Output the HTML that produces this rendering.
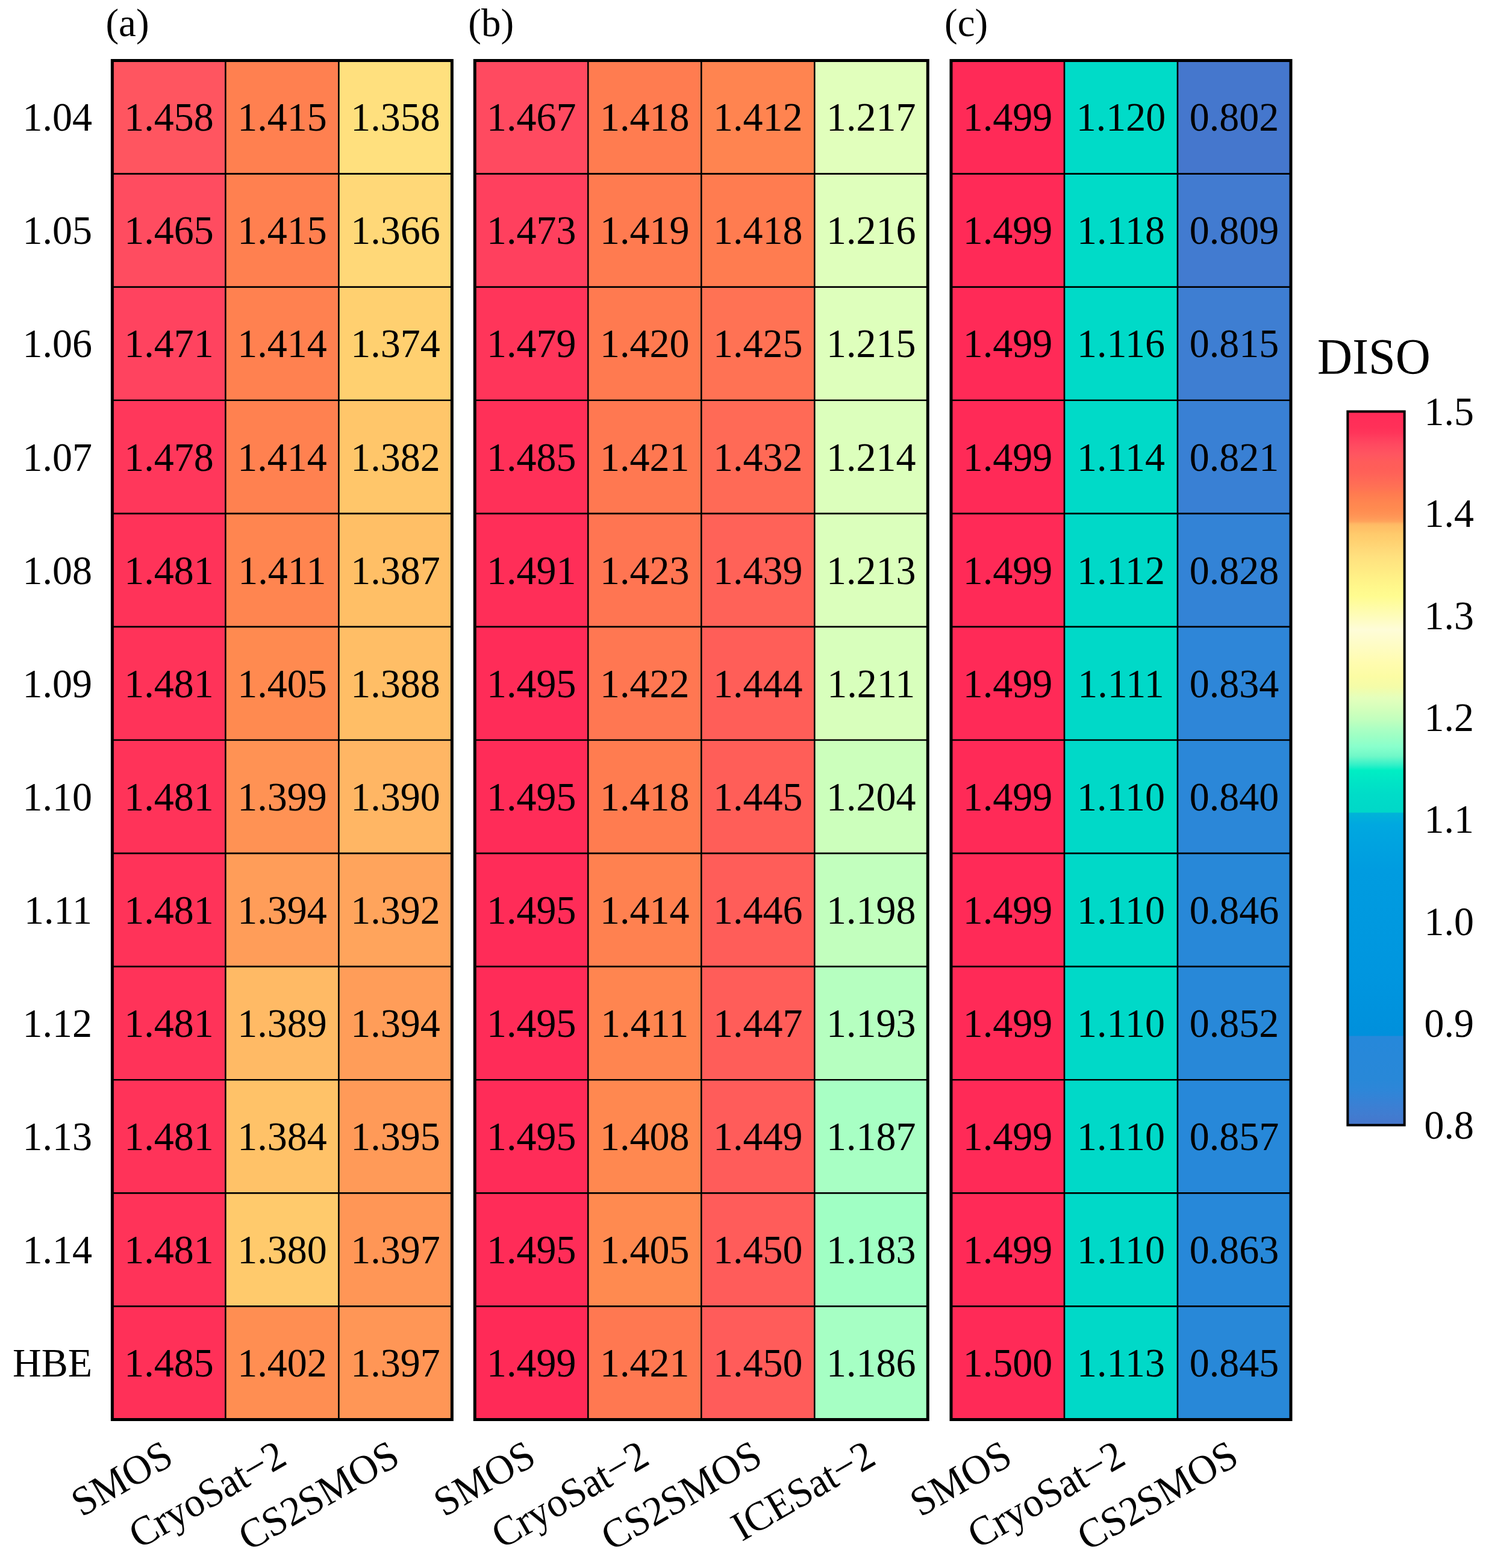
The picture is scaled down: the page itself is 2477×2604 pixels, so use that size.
<!DOCTYPE html>
<html><head><meta charset="utf-8"><title>DISO heatmap</title>
<style>
html,body{margin:0;padding:0;background:#fff;}
body{width:2477px;height:2604px;overflow:hidden;}
svg{display:block;}
svg text{font-family:"Liberation Serif", serif;font-size:66.00px;fill:#000;}
</style></head><body>
<svg width="2477" height="2604" viewBox="0 0 2477 2604">
<rect x="0" y="0" width="2477" height="2604" fill="#ffffff"/>
<rect x="186.40" y="100.50" width="188.00" height="188.08" fill="#ff5560"/>
<rect x="374.40" y="100.50" width="188.00" height="188.08" fill="#ff8050"/>
<rect x="562.40" y="100.50" width="188.00" height="188.08" fill="#ffe07e"/>
<rect x="186.40" y="288.58" width="188.00" height="188.08" fill="#ff4c60"/>
<rect x="374.40" y="288.58" width="188.00" height="188.08" fill="#ff8050"/>
<rect x="562.40" y="288.58" width="188.00" height="188.08" fill="#ffd878"/>
<rect x="186.40" y="476.67" width="188.00" height="188.08" fill="#ff435f"/>
<rect x="374.40" y="476.67" width="188.00" height="188.08" fill="#ff8150"/>
<rect x="562.40" y="476.67" width="188.00" height="188.08" fill="#ffd070"/>
<rect x="186.40" y="664.75" width="188.00" height="188.08" fill="#ff375b"/>
<rect x="374.40" y="664.75" width="188.00" height="188.08" fill="#ff8150"/>
<rect x="562.40" y="664.75" width="188.00" height="188.08" fill="#ffc66a"/>
<rect x="186.40" y="852.83" width="188.00" height="188.08" fill="#ff3359"/>
<rect x="374.40" y="852.83" width="188.00" height="188.08" fill="#ff8550"/>
<rect x="562.40" y="852.83" width="188.00" height="188.08" fill="#ffbf66"/>
<rect x="186.40" y="1040.92" width="188.00" height="188.08" fill="#ff3359"/>
<rect x="374.40" y="1040.92" width="188.00" height="188.08" fill="#ff8a50"/>
<rect x="562.40" y="1040.92" width="188.00" height="188.08" fill="#ffbe66"/>
<rect x="186.40" y="1229.00" width="188.00" height="188.08" fill="#ff3359"/>
<rect x="374.40" y="1229.00" width="188.00" height="188.08" fill="#ff9254"/>
<rect x="562.40" y="1229.00" width="188.00" height="188.08" fill="#ffb664"/>
<rect x="186.40" y="1417.08" width="188.00" height="188.08" fill="#ff3359"/>
<rect x="374.40" y="1417.08" width="188.00" height="188.08" fill="#ff9d59"/>
<rect x="562.40" y="1417.08" width="188.00" height="188.08" fill="#ffa45c"/>
<rect x="186.40" y="1605.17" width="188.00" height="188.08" fill="#ff3359"/>
<rect x="374.40" y="1605.17" width="188.00" height="188.08" fill="#ffba65"/>
<rect x="562.40" y="1605.17" width="188.00" height="188.08" fill="#ff9d59"/>
<rect x="186.40" y="1793.25" width="188.00" height="188.08" fill="#ff3359"/>
<rect x="374.40" y="1793.25" width="188.00" height="188.08" fill="#ffc268"/>
<rect x="562.40" y="1793.25" width="188.00" height="188.08" fill="#ff9a58"/>
<rect x="186.40" y="1981.33" width="188.00" height="188.08" fill="#ff3359"/>
<rect x="374.40" y="1981.33" width="188.00" height="188.08" fill="#ffca6c"/>
<rect x="562.40" y="1981.33" width="188.00" height="188.08" fill="#ff9656"/>
<rect x="186.40" y="2169.42" width="188.00" height="188.08" fill="#ff3058"/>
<rect x="374.40" y="2169.42" width="188.00" height="188.08" fill="#ff8e52"/>
<rect x="562.40" y="2169.42" width="188.00" height="188.08" fill="#ff9656"/>
<line x1="374.40" y1="100.50" x2="374.40" y2="2357.50" stroke="#000" stroke-width="2.60"/>
<line x1="562.40" y1="100.50" x2="562.40" y2="2357.50" stroke="#000" stroke-width="2.60"/>
<line x1="186.40" y1="288.58" x2="750.40" y2="288.58" stroke="#000" stroke-width="2.60"/>
<line x1="186.40" y1="476.67" x2="750.40" y2="476.67" stroke="#000" stroke-width="2.60"/>
<line x1="186.40" y1="664.75" x2="750.40" y2="664.75" stroke="#000" stroke-width="2.60"/>
<line x1="186.40" y1="852.83" x2="750.40" y2="852.83" stroke="#000" stroke-width="2.60"/>
<line x1="186.40" y1="1040.92" x2="750.40" y2="1040.92" stroke="#000" stroke-width="2.60"/>
<line x1="186.40" y1="1229.00" x2="750.40" y2="1229.00" stroke="#000" stroke-width="2.60"/>
<line x1="186.40" y1="1417.08" x2="750.40" y2="1417.08" stroke="#000" stroke-width="2.60"/>
<line x1="186.40" y1="1605.17" x2="750.40" y2="1605.17" stroke="#000" stroke-width="2.60"/>
<line x1="186.40" y1="1793.25" x2="750.40" y2="1793.25" stroke="#000" stroke-width="2.60"/>
<line x1="186.40" y1="1981.33" x2="750.40" y2="1981.33" stroke="#000" stroke-width="2.60"/>
<line x1="186.40" y1="2169.42" x2="750.40" y2="2169.42" stroke="#000" stroke-width="2.60"/>
<rect x="186.40" y="100.50" width="564.00" height="2257.00" fill="none" stroke="#000" stroke-width="5.00"/>
<text transform="translate(280.40 217.26) scale(1 1.040)" text-anchor="middle">1.458</text>
<text transform="translate(468.40 217.26) scale(1 1.040)" text-anchor="middle">1.415</text>
<text transform="translate(656.40 217.26) scale(1 1.040)" text-anchor="middle">1.358</text>
<text transform="translate(280.40 405.34) scale(1 1.040)" text-anchor="middle">1.465</text>
<text transform="translate(468.40 405.34) scale(1 1.040)" text-anchor="middle">1.415</text>
<text transform="translate(656.40 405.34) scale(1 1.040)" text-anchor="middle">1.366</text>
<text transform="translate(280.40 593.43) scale(1 1.040)" text-anchor="middle">1.471</text>
<text transform="translate(468.40 593.43) scale(1 1.040)" text-anchor="middle">1.414</text>
<text transform="translate(656.40 593.43) scale(1 1.040)" text-anchor="middle">1.374</text>
<text transform="translate(280.40 781.51) scale(1 1.040)" text-anchor="middle">1.478</text>
<text transform="translate(468.40 781.51) scale(1 1.040)" text-anchor="middle">1.414</text>
<text transform="translate(656.40 781.51) scale(1 1.040)" text-anchor="middle">1.382</text>
<text transform="translate(280.40 969.59) scale(1 1.040)" text-anchor="middle">1.481</text>
<text transform="translate(468.40 969.59) scale(1 1.040)" text-anchor="middle">1.411</text>
<text transform="translate(656.40 969.59) scale(1 1.040)" text-anchor="middle">1.387</text>
<text transform="translate(280.40 1157.68) scale(1 1.040)" text-anchor="middle">1.481</text>
<text transform="translate(468.40 1157.68) scale(1 1.040)" text-anchor="middle">1.405</text>
<text transform="translate(656.40 1157.68) scale(1 1.040)" text-anchor="middle">1.388</text>
<text transform="translate(280.40 1345.76) scale(1 1.040)" text-anchor="middle">1.481</text>
<text transform="translate(468.40 1345.76) scale(1 1.040)" text-anchor="middle">1.399</text>
<text transform="translate(656.40 1345.76) scale(1 1.040)" text-anchor="middle">1.390</text>
<text transform="translate(280.40 1533.84) scale(1 1.040)" text-anchor="middle">1.481</text>
<text transform="translate(468.40 1533.84) scale(1 1.040)" text-anchor="middle">1.394</text>
<text transform="translate(656.40 1533.84) scale(1 1.040)" text-anchor="middle">1.392</text>
<text transform="translate(280.40 1721.93) scale(1 1.040)" text-anchor="middle">1.481</text>
<text transform="translate(468.40 1721.93) scale(1 1.040)" text-anchor="middle">1.389</text>
<text transform="translate(656.40 1721.93) scale(1 1.040)" text-anchor="middle">1.394</text>
<text transform="translate(280.40 1910.01) scale(1 1.040)" text-anchor="middle">1.481</text>
<text transform="translate(468.40 1910.01) scale(1 1.040)" text-anchor="middle">1.384</text>
<text transform="translate(656.40 1910.01) scale(1 1.040)" text-anchor="middle">1.395</text>
<text transform="translate(280.40 2098.09) scale(1 1.040)" text-anchor="middle">1.481</text>
<text transform="translate(468.40 2098.09) scale(1 1.040)" text-anchor="middle">1.380</text>
<text transform="translate(656.40 2098.09) scale(1 1.040)" text-anchor="middle">1.397</text>
<text transform="translate(280.40 2286.18) scale(1 1.040)" text-anchor="middle">1.485</text>
<text transform="translate(468.40 2286.18) scale(1 1.040)" text-anchor="middle">1.402</text>
<text transform="translate(656.40 2286.18) scale(1 1.040)" text-anchor="middle">1.397</text>
<text transform="translate(175.40 60.00)" style="font-size:65px">(a)</text>
<text transform="translate(291.40 2430.00) rotate(-30) scale(1 1.040)" text-anchor="end">SMOS</text>
<text transform="translate(479.40 2430.00) rotate(-30) scale(1 1.040)" text-anchor="end">CryoSat−2</text>
<text transform="translate(667.40 2430.00) rotate(-30) scale(1 1.040)" text-anchor="end">CS2SMOS</text>
<rect x="788.30" y="100.50" width="188.00" height="188.08" fill="#ff4a60"/>
<rect x="976.30" y="100.50" width="188.00" height="188.08" fill="#ff7c50"/>
<rect x="1164.30" y="100.50" width="188.00" height="188.08" fill="#ff8450"/>
<rect x="1352.30" y="100.50" width="188.00" height="188.08" fill="#e1ffbc"/>
<rect x="788.30" y="288.58" width="188.00" height="188.08" fill="#ff405e"/>
<rect x="976.30" y="288.58" width="188.00" height="188.08" fill="#ff7b50"/>
<rect x="1164.30" y="288.58" width="188.00" height="188.08" fill="#ff7c50"/>
<rect x="1352.30" y="288.58" width="188.00" height="188.08" fill="#dfffbc"/>
<rect x="788.30" y="476.67" width="188.00" height="188.08" fill="#ff355a"/>
<rect x="976.30" y="476.67" width="188.00" height="188.08" fill="#ff7a50"/>
<rect x="1164.30" y="476.67" width="188.00" height="188.08" fill="#ff7254"/>
<rect x="1352.30" y="476.67" width="188.00" height="188.08" fill="#deffbc"/>
<rect x="788.30" y="664.75" width="188.00" height="188.08" fill="#ff3058"/>
<rect x="976.30" y="664.75" width="188.00" height="188.08" fill="#ff7851"/>
<rect x="1164.30" y="664.75" width="188.00" height="188.08" fill="#ff6a56"/>
<rect x="1352.30" y="664.75" width="188.00" height="188.08" fill="#dcffbc"/>
<rect x="788.30" y="852.83" width="188.00" height="188.08" fill="#ff2e58"/>
<rect x="976.30" y="852.83" width="188.00" height="188.08" fill="#ff7552"/>
<rect x="1164.30" y="852.83" width="188.00" height="188.08" fill="#ff6258"/>
<rect x="1352.30" y="852.83" width="188.00" height="188.08" fill="#dbffbc"/>
<rect x="788.30" y="1040.92" width="188.00" height="188.08" fill="#ff2c58"/>
<rect x="976.30" y="1040.92" width="188.00" height="188.08" fill="#ff7752"/>
<rect x="1164.30" y="1040.92" width="188.00" height="188.08" fill="#ff5e58"/>
<rect x="1352.30" y="1040.92" width="188.00" height="188.08" fill="#d8ffbc"/>
<rect x="788.30" y="1229.00" width="188.00" height="188.08" fill="#ff2c58"/>
<rect x="976.30" y="1229.00" width="188.00" height="188.08" fill="#ff7c50"/>
<rect x="1164.30" y="1229.00" width="188.00" height="188.08" fill="#ff5e58"/>
<rect x="1352.30" y="1229.00" width="188.00" height="188.08" fill="#ccffbc"/>
<rect x="788.30" y="1417.08" width="188.00" height="188.08" fill="#ff2c58"/>
<rect x="976.30" y="1417.08" width="188.00" height="188.08" fill="#ff8150"/>
<rect x="1164.30" y="1417.08" width="188.00" height="188.08" fill="#ff5d59"/>
<rect x="1352.30" y="1417.08" width="188.00" height="188.08" fill="#c2ffbe"/>
<rect x="788.30" y="1605.17" width="188.00" height="188.08" fill="#ff2c58"/>
<rect x="976.30" y="1605.17" width="188.00" height="188.08" fill="#ff8550"/>
<rect x="1164.30" y="1605.17" width="188.00" height="188.08" fill="#ff5d59"/>
<rect x="1352.30" y="1605.17" width="188.00" height="188.08" fill="#b6ffc0"/>
<rect x="788.30" y="1793.25" width="188.00" height="188.08" fill="#ff2c58"/>
<rect x="976.30" y="1793.25" width="188.00" height="188.08" fill="#ff8850"/>
<rect x="1164.30" y="1793.25" width="188.00" height="188.08" fill="#ff5c5a"/>
<rect x="1352.30" y="1793.25" width="188.00" height="188.08" fill="#a8ffc4"/>
<rect x="788.30" y="1981.33" width="188.00" height="188.08" fill="#ff2c58"/>
<rect x="976.30" y="1981.33" width="188.00" height="188.08" fill="#ff8a50"/>
<rect x="1164.30" y="1981.33" width="188.00" height="188.08" fill="#ff5c5a"/>
<rect x="1352.30" y="1981.33" width="188.00" height="188.08" fill="#a0ffc4"/>
<rect x="788.30" y="2169.42" width="188.00" height="188.08" fill="#ff2a57"/>
<rect x="976.30" y="2169.42" width="188.00" height="188.08" fill="#ff7851"/>
<rect x="1164.30" y="2169.42" width="188.00" height="188.08" fill="#ff5c5a"/>
<rect x="1352.30" y="2169.42" width="188.00" height="188.08" fill="#a6ffc4"/>
<line x1="976.30" y1="100.50" x2="976.30" y2="2357.50" stroke="#000" stroke-width="2.60"/>
<line x1="1164.30" y1="100.50" x2="1164.30" y2="2357.50" stroke="#000" stroke-width="2.60"/>
<line x1="1352.30" y1="100.50" x2="1352.30" y2="2357.50" stroke="#000" stroke-width="2.60"/>
<line x1="788.30" y1="288.58" x2="1540.30" y2="288.58" stroke="#000" stroke-width="2.60"/>
<line x1="788.30" y1="476.67" x2="1540.30" y2="476.67" stroke="#000" stroke-width="2.60"/>
<line x1="788.30" y1="664.75" x2="1540.30" y2="664.75" stroke="#000" stroke-width="2.60"/>
<line x1="788.30" y1="852.83" x2="1540.30" y2="852.83" stroke="#000" stroke-width="2.60"/>
<line x1="788.30" y1="1040.92" x2="1540.30" y2="1040.92" stroke="#000" stroke-width="2.60"/>
<line x1="788.30" y1="1229.00" x2="1540.30" y2="1229.00" stroke="#000" stroke-width="2.60"/>
<line x1="788.30" y1="1417.08" x2="1540.30" y2="1417.08" stroke="#000" stroke-width="2.60"/>
<line x1="788.30" y1="1605.17" x2="1540.30" y2="1605.17" stroke="#000" stroke-width="2.60"/>
<line x1="788.30" y1="1793.25" x2="1540.30" y2="1793.25" stroke="#000" stroke-width="2.60"/>
<line x1="788.30" y1="1981.33" x2="1540.30" y2="1981.33" stroke="#000" stroke-width="2.60"/>
<line x1="788.30" y1="2169.42" x2="1540.30" y2="2169.42" stroke="#000" stroke-width="2.60"/>
<rect x="788.30" y="100.50" width="752.00" height="2257.00" fill="none" stroke="#000" stroke-width="5.00"/>
<text transform="translate(882.30 217.26) scale(1 1.040)" text-anchor="middle">1.467</text>
<text transform="translate(1070.30 217.26) scale(1 1.040)" text-anchor="middle">1.418</text>
<text transform="translate(1258.30 217.26) scale(1 1.040)" text-anchor="middle">1.412</text>
<text transform="translate(1446.30 217.26) scale(1 1.040)" text-anchor="middle">1.217</text>
<text transform="translate(882.30 405.34) scale(1 1.040)" text-anchor="middle">1.473</text>
<text transform="translate(1070.30 405.34) scale(1 1.040)" text-anchor="middle">1.419</text>
<text transform="translate(1258.30 405.34) scale(1 1.040)" text-anchor="middle">1.418</text>
<text transform="translate(1446.30 405.34) scale(1 1.040)" text-anchor="middle">1.216</text>
<text transform="translate(882.30 593.43) scale(1 1.040)" text-anchor="middle">1.479</text>
<text transform="translate(1070.30 593.43) scale(1 1.040)" text-anchor="middle">1.420</text>
<text transform="translate(1258.30 593.43) scale(1 1.040)" text-anchor="middle">1.425</text>
<text transform="translate(1446.30 593.43) scale(1 1.040)" text-anchor="middle">1.215</text>
<text transform="translate(882.30 781.51) scale(1 1.040)" text-anchor="middle">1.485</text>
<text transform="translate(1070.30 781.51) scale(1 1.040)" text-anchor="middle">1.421</text>
<text transform="translate(1258.30 781.51) scale(1 1.040)" text-anchor="middle">1.432</text>
<text transform="translate(1446.30 781.51) scale(1 1.040)" text-anchor="middle">1.214</text>
<text transform="translate(882.30 969.59) scale(1 1.040)" text-anchor="middle">1.491</text>
<text transform="translate(1070.30 969.59) scale(1 1.040)" text-anchor="middle">1.423</text>
<text transform="translate(1258.30 969.59) scale(1 1.040)" text-anchor="middle">1.439</text>
<text transform="translate(1446.30 969.59) scale(1 1.040)" text-anchor="middle">1.213</text>
<text transform="translate(882.30 1157.68) scale(1 1.040)" text-anchor="middle">1.495</text>
<text transform="translate(1070.30 1157.68) scale(1 1.040)" text-anchor="middle">1.422</text>
<text transform="translate(1258.30 1157.68) scale(1 1.040)" text-anchor="middle">1.444</text>
<text transform="translate(1446.30 1157.68) scale(1 1.040)" text-anchor="middle">1.211</text>
<text transform="translate(882.30 1345.76) scale(1 1.040)" text-anchor="middle">1.495</text>
<text transform="translate(1070.30 1345.76) scale(1 1.040)" text-anchor="middle">1.418</text>
<text transform="translate(1258.30 1345.76) scale(1 1.040)" text-anchor="middle">1.445</text>
<text transform="translate(1446.30 1345.76) scale(1 1.040)" text-anchor="middle">1.204</text>
<text transform="translate(882.30 1533.84) scale(1 1.040)" text-anchor="middle">1.495</text>
<text transform="translate(1070.30 1533.84) scale(1 1.040)" text-anchor="middle">1.414</text>
<text transform="translate(1258.30 1533.84) scale(1 1.040)" text-anchor="middle">1.446</text>
<text transform="translate(1446.30 1533.84) scale(1 1.040)" text-anchor="middle">1.198</text>
<text transform="translate(882.30 1721.93) scale(1 1.040)" text-anchor="middle">1.495</text>
<text transform="translate(1070.30 1721.93) scale(1 1.040)" text-anchor="middle">1.411</text>
<text transform="translate(1258.30 1721.93) scale(1 1.040)" text-anchor="middle">1.447</text>
<text transform="translate(1446.30 1721.93) scale(1 1.040)" text-anchor="middle">1.193</text>
<text transform="translate(882.30 1910.01) scale(1 1.040)" text-anchor="middle">1.495</text>
<text transform="translate(1070.30 1910.01) scale(1 1.040)" text-anchor="middle">1.408</text>
<text transform="translate(1258.30 1910.01) scale(1 1.040)" text-anchor="middle">1.449</text>
<text transform="translate(1446.30 1910.01) scale(1 1.040)" text-anchor="middle">1.187</text>
<text transform="translate(882.30 2098.09) scale(1 1.040)" text-anchor="middle">1.495</text>
<text transform="translate(1070.30 2098.09) scale(1 1.040)" text-anchor="middle">1.405</text>
<text transform="translate(1258.30 2098.09) scale(1 1.040)" text-anchor="middle">1.450</text>
<text transform="translate(1446.30 2098.09) scale(1 1.040)" text-anchor="middle">1.183</text>
<text transform="translate(882.30 2286.18) scale(1 1.040)" text-anchor="middle">1.499</text>
<text transform="translate(1070.30 2286.18) scale(1 1.040)" text-anchor="middle">1.421</text>
<text transform="translate(1258.30 2286.18) scale(1 1.040)" text-anchor="middle">1.450</text>
<text transform="translate(1446.30 2286.18) scale(1 1.040)" text-anchor="middle">1.186</text>
<text transform="translate(777.30 60.00)" style="font-size:65px">(b)</text>
<text transform="translate(893.30 2430.00) rotate(-30) scale(1 1.040)" text-anchor="end">SMOS</text>
<text transform="translate(1081.30 2430.00) rotate(-30) scale(1 1.040)" text-anchor="end">CryoSat−2</text>
<text transform="translate(1269.30 2430.00) rotate(-30) scale(1 1.040)" text-anchor="end">CS2SMOS</text>
<text transform="translate(1457.30 2430.00) rotate(-30) scale(1 1.040)" text-anchor="end">ICESat−2</text>
<rect x="1579.00" y="100.50" width="188.00" height="188.08" fill="#ff2a57"/>
<rect x="1767.00" y="100.50" width="188.00" height="188.08" fill="#00dbc8"/>
<rect x="1955.00" y="100.50" width="188.00" height="188.08" fill="#4577cd"/>
<rect x="1579.00" y="288.58" width="188.00" height="188.08" fill="#ff2a57"/>
<rect x="1767.00" y="288.58" width="188.00" height="188.08" fill="#00dbc8"/>
<rect x="1955.00" y="288.58" width="188.00" height="188.08" fill="#427bd0"/>
<rect x="1579.00" y="476.67" width="188.00" height="188.08" fill="#ff2a57"/>
<rect x="1767.00" y="476.67" width="188.00" height="188.08" fill="#00dac8"/>
<rect x="1955.00" y="476.67" width="188.00" height="188.08" fill="#3e7ed2"/>
<rect x="1579.00" y="664.75" width="188.00" height="188.08" fill="#ff2a57"/>
<rect x="1767.00" y="664.75" width="188.00" height="188.08" fill="#00dac8"/>
<rect x="1955.00" y="664.75" width="188.00" height="188.08" fill="#3980d4"/>
<rect x="1579.00" y="852.83" width="188.00" height="188.08" fill="#ff2a57"/>
<rect x="1767.00" y="852.83" width="188.00" height="188.08" fill="#00d9c8"/>
<rect x="1955.00" y="852.83" width="188.00" height="188.08" fill="#3383d6"/>
<rect x="1579.00" y="1040.92" width="188.00" height="188.08" fill="#ff2a57"/>
<rect x="1767.00" y="1040.92" width="188.00" height="188.08" fill="#00d9c8"/>
<rect x="1955.00" y="1040.92" width="188.00" height="188.08" fill="#2e86d8"/>
<rect x="1579.00" y="1229.00" width="188.00" height="188.08" fill="#ff2a57"/>
<rect x="1767.00" y="1229.00" width="188.00" height="188.08" fill="#00d9c8"/>
<rect x="1955.00" y="1229.00" width="188.00" height="188.08" fill="#2b87d8"/>
<rect x="1579.00" y="1417.08" width="188.00" height="188.08" fill="#ff2a57"/>
<rect x="1767.00" y="1417.08" width="188.00" height="188.08" fill="#00d9c8"/>
<rect x="1955.00" y="1417.08" width="188.00" height="188.08" fill="#2888d8"/>
<rect x="1579.00" y="1605.17" width="188.00" height="188.08" fill="#ff2a57"/>
<rect x="1767.00" y="1605.17" width="188.00" height="188.08" fill="#00d9c8"/>
<rect x="1955.00" y="1605.17" width="188.00" height="188.08" fill="#2888d8"/>
<rect x="1579.00" y="1793.25" width="188.00" height="188.08" fill="#ff2a57"/>
<rect x="1767.00" y="1793.25" width="188.00" height="188.08" fill="#00d9c8"/>
<rect x="1955.00" y="1793.25" width="188.00" height="188.08" fill="#2788d9"/>
<rect x="1579.00" y="1981.33" width="188.00" height="188.08" fill="#ff2a57"/>
<rect x="1767.00" y="1981.33" width="188.00" height="188.08" fill="#00d9c8"/>
<rect x="1955.00" y="1981.33" width="188.00" height="188.08" fill="#2788d9"/>
<rect x="1579.00" y="2169.42" width="188.00" height="188.08" fill="#ff2a57"/>
<rect x="1767.00" y="2169.42" width="188.00" height="188.08" fill="#00d9c8"/>
<rect x="1955.00" y="2169.42" width="188.00" height="188.08" fill="#2888d8"/>
<line x1="1767.00" y1="100.50" x2="1767.00" y2="2357.50" stroke="#000" stroke-width="2.60"/>
<line x1="1955.00" y1="100.50" x2="1955.00" y2="2357.50" stroke="#000" stroke-width="2.60"/>
<line x1="1579.00" y1="288.58" x2="2143.00" y2="288.58" stroke="#000" stroke-width="2.60"/>
<line x1="1579.00" y1="476.67" x2="2143.00" y2="476.67" stroke="#000" stroke-width="2.60"/>
<line x1="1579.00" y1="664.75" x2="2143.00" y2="664.75" stroke="#000" stroke-width="2.60"/>
<line x1="1579.00" y1="852.83" x2="2143.00" y2="852.83" stroke="#000" stroke-width="2.60"/>
<line x1="1579.00" y1="1040.92" x2="2143.00" y2="1040.92" stroke="#000" stroke-width="2.60"/>
<line x1="1579.00" y1="1229.00" x2="2143.00" y2="1229.00" stroke="#000" stroke-width="2.60"/>
<line x1="1579.00" y1="1417.08" x2="2143.00" y2="1417.08" stroke="#000" stroke-width="2.60"/>
<line x1="1579.00" y1="1605.17" x2="2143.00" y2="1605.17" stroke="#000" stroke-width="2.60"/>
<line x1="1579.00" y1="1793.25" x2="2143.00" y2="1793.25" stroke="#000" stroke-width="2.60"/>
<line x1="1579.00" y1="1981.33" x2="2143.00" y2="1981.33" stroke="#000" stroke-width="2.60"/>
<line x1="1579.00" y1="2169.42" x2="2143.00" y2="2169.42" stroke="#000" stroke-width="2.60"/>
<rect x="1579.00" y="100.50" width="564.00" height="2257.00" fill="none" stroke="#000" stroke-width="5.00"/>
<text transform="translate(1673.00 217.26) scale(1 1.040)" text-anchor="middle">1.499</text>
<text transform="translate(1861.00 217.26) scale(1 1.040)" text-anchor="middle">1.120</text>
<text transform="translate(2049.00 217.26) scale(1 1.040)" text-anchor="middle">0.802</text>
<text transform="translate(1673.00 405.34) scale(1 1.040)" text-anchor="middle">1.499</text>
<text transform="translate(1861.00 405.34) scale(1 1.040)" text-anchor="middle">1.118</text>
<text transform="translate(2049.00 405.34) scale(1 1.040)" text-anchor="middle">0.809</text>
<text transform="translate(1673.00 593.43) scale(1 1.040)" text-anchor="middle">1.499</text>
<text transform="translate(1861.00 593.43) scale(1 1.040)" text-anchor="middle">1.116</text>
<text transform="translate(2049.00 593.43) scale(1 1.040)" text-anchor="middle">0.815</text>
<text transform="translate(1673.00 781.51) scale(1 1.040)" text-anchor="middle">1.499</text>
<text transform="translate(1861.00 781.51) scale(1 1.040)" text-anchor="middle">1.114</text>
<text transform="translate(2049.00 781.51) scale(1 1.040)" text-anchor="middle">0.821</text>
<text transform="translate(1673.00 969.59) scale(1 1.040)" text-anchor="middle">1.499</text>
<text transform="translate(1861.00 969.59) scale(1 1.040)" text-anchor="middle">1.112</text>
<text transform="translate(2049.00 969.59) scale(1 1.040)" text-anchor="middle">0.828</text>
<text transform="translate(1673.00 1157.68) scale(1 1.040)" text-anchor="middle">1.499</text>
<text transform="translate(1861.00 1157.68) scale(1 1.040)" text-anchor="middle">1.111</text>
<text transform="translate(2049.00 1157.68) scale(1 1.040)" text-anchor="middle">0.834</text>
<text transform="translate(1673.00 1345.76) scale(1 1.040)" text-anchor="middle">1.499</text>
<text transform="translate(1861.00 1345.76) scale(1 1.040)" text-anchor="middle">1.110</text>
<text transform="translate(2049.00 1345.76) scale(1 1.040)" text-anchor="middle">0.840</text>
<text transform="translate(1673.00 1533.84) scale(1 1.040)" text-anchor="middle">1.499</text>
<text transform="translate(1861.00 1533.84) scale(1 1.040)" text-anchor="middle">1.110</text>
<text transform="translate(2049.00 1533.84) scale(1 1.040)" text-anchor="middle">0.846</text>
<text transform="translate(1673.00 1721.93) scale(1 1.040)" text-anchor="middle">1.499</text>
<text transform="translate(1861.00 1721.93) scale(1 1.040)" text-anchor="middle">1.110</text>
<text transform="translate(2049.00 1721.93) scale(1 1.040)" text-anchor="middle">0.852</text>
<text transform="translate(1673.00 1910.01) scale(1 1.040)" text-anchor="middle">1.499</text>
<text transform="translate(1861.00 1910.01) scale(1 1.040)" text-anchor="middle">1.110</text>
<text transform="translate(2049.00 1910.01) scale(1 1.040)" text-anchor="middle">0.857</text>
<text transform="translate(1673.00 2098.09) scale(1 1.040)" text-anchor="middle">1.499</text>
<text transform="translate(1861.00 2098.09) scale(1 1.040)" text-anchor="middle">1.110</text>
<text transform="translate(2049.00 2098.09) scale(1 1.040)" text-anchor="middle">0.863</text>
<text transform="translate(1673.00 2286.18) scale(1 1.040)" text-anchor="middle">1.500</text>
<text transform="translate(1861.00 2286.18) scale(1 1.040)" text-anchor="middle">1.113</text>
<text transform="translate(2049.00 2286.18) scale(1 1.040)" text-anchor="middle">0.845</text>
<text transform="translate(1568.00 60.00)" style="font-size:65px">(c)</text>
<text transform="translate(1684.00 2430.00) rotate(-30) scale(1 1.040)" text-anchor="end">SMOS</text>
<text transform="translate(1872.00 2430.00) rotate(-30) scale(1 1.040)" text-anchor="end">CryoSat−2</text>
<text transform="translate(2060.00 2430.00) rotate(-30) scale(1 1.040)" text-anchor="end">CS2SMOS</text>
<text transform="translate(153.00 217.26) scale(1 1.040)" text-anchor="end">1.04</text>
<text transform="translate(153.00 405.34) scale(1 1.040)" text-anchor="end">1.05</text>
<text transform="translate(153.00 593.43) scale(1 1.040)" text-anchor="end">1.06</text>
<text transform="translate(153.00 781.51) scale(1 1.040)" text-anchor="end">1.07</text>
<text transform="translate(153.00 969.59) scale(1 1.040)" text-anchor="end">1.08</text>
<text transform="translate(153.00 1157.68) scale(1 1.040)" text-anchor="end">1.09</text>
<text transform="translate(153.00 1345.76) scale(1 1.040)" text-anchor="end">1.10</text>
<text transform="translate(153.00 1533.84) scale(1 1.040)" text-anchor="end">1.11</text>
<text transform="translate(153.00 1721.93) scale(1 1.040)" text-anchor="end">1.12</text>
<text transform="translate(153.00 1910.01) scale(1 1.040)" text-anchor="end">1.13</text>
<text transform="translate(153.00 2098.09) scale(1 1.040)" text-anchor="end">1.14</text>
<text transform="translate(153.00 2286.18) scale(1 1.040)" text-anchor="end">HBE</text>
<defs><linearGradient id="cb" x1="0" y1="0" x2="0" y2="1">
<stop offset="0.0000" stop-color="#ff2a57"/>
<stop offset="0.0071" stop-color="#ff2c58"/>
<stop offset="0.0214" stop-color="#ff3058"/>
<stop offset="0.0300" stop-color="#ff355a"/>
<stop offset="0.0386" stop-color="#ff405e"/>
<stop offset="0.0471" stop-color="#ff4a60"/>
<stop offset="0.0600" stop-color="#ff5560"/>
<stop offset="0.0714" stop-color="#ff5c5a"/>
<stop offset="0.0800" stop-color="#ff5e58"/>
<stop offset="0.0871" stop-color="#ff6258"/>
<stop offset="0.0971" stop-color="#ff6a56"/>
<stop offset="0.1071" stop-color="#ff7254"/>
<stop offset="0.1143" stop-color="#ff7a50"/>
<stop offset="0.1214" stop-color="#ff8050"/>
<stop offset="0.1271" stop-color="#ff8550"/>
<stop offset="0.1357" stop-color="#ff8a50"/>
<stop offset="0.1443" stop-color="#ff9254"/>
<stop offset="0.1500" stop-color="#ff9a58"/>
<stop offset="0.1543" stop-color="#ffa45c"/>
<stop offset="0.1571" stop-color="#ffb664"/>
<stop offset="0.1600" stop-color="#ffbe66"/>
<stop offset="0.1657" stop-color="#ffc268"/>
<stop offset="0.1714" stop-color="#ffca6c"/>
<stop offset="0.1800" stop-color="#ffd070"/>
<stop offset="0.1914" stop-color="#ffd878"/>
<stop offset="0.2029" stop-color="#ffe07e"/>
<stop offset="0.2243" stop-color="#ffec84"/>
<stop offset="0.2429" stop-color="#fff68a"/>
<stop offset="0.2586" stop-color="#fffc90"/>
<stop offset="0.2857" stop-color="#fefcb8"/>
<stop offset="0.3057" stop-color="#fefcd8"/>
<stop offset="0.3286" stop-color="#fefcc4"/>
<stop offset="0.3514" stop-color="#fffcb0"/>
<stop offset="0.3714" stop-color="#fcfca4"/>
<stop offset="0.3857" stop-color="#f4fca8"/>
<stop offset="0.4014" stop-color="#e4ffbc"/>
<stop offset="0.4129" stop-color="#d8ffbc"/>
<stop offset="0.4229" stop-color="#ccffbc"/>
<stop offset="0.4314" stop-color="#c2ffbe"/>
<stop offset="0.4386" stop-color="#b6ffc0"/>
<stop offset="0.4471" stop-color="#a8ffc4"/>
<stop offset="0.4529" stop-color="#a0ffc4"/>
<stop offset="0.4700" stop-color="#88ffcc"/>
<stop offset="0.4829" stop-color="#70f8c8"/>
<stop offset="0.4957" stop-color="#30f0c8"/>
<stop offset="0.5029" stop-color="#00eec4"/>
<stop offset="0.5200" stop-color="#00e4c6"/>
<stop offset="0.5371" stop-color="#00dcc8"/>
<stop offset="0.5614" stop-color="#00d8c8"/>
<stop offset="0.5629" stop-color="#00b4d8"/>
<stop offset="0.5786" stop-color="#00a8e0"/>
<stop offset="0.6429" stop-color="#009ce0"/>
<stop offset="0.7857" stop-color="#0096df"/>
<stop offset="0.8743" stop-color="#0090dc"/>
<stop offset="0.8757" stop-color="#2688da"/>
<stop offset="0.9357" stop-color="#2888d8"/>
<stop offset="0.9514" stop-color="#2e86d8"/>
<stop offset="0.9714" stop-color="#3a80d4"/>
<stop offset="0.9857" stop-color="#417cd0"/>
<stop offset="1.0000" stop-color="#4676cc"/>
</linearGradient></defs>
<rect x="2237.40" y="683.40" width="94.30" height="1185.10" fill="url(#cb)" stroke="#000" stroke-width="4"/>
<text transform="translate(2364.50 706.12) scale(1 1.040)">1.5</text>
<text transform="translate(2364.50 875.42) scale(1 1.040)">1.4</text>
<text transform="translate(2364.50 1044.72) scale(1 1.040)">1.3</text>
<text transform="translate(2364.50 1214.02) scale(1 1.040)">1.2</text>
<text transform="translate(2364.50 1383.32) scale(1 1.040)">1.1</text>
<text transform="translate(2364.50 1552.62) scale(1 1.040)">1.0</text>
<text transform="translate(2364.50 1721.92) scale(1 1.040)">0.9</text>
<text transform="translate(2364.50 1891.22) scale(1 1.040)">0.8</text>
<text transform="translate(2281.00 620.50) scale(1 1.040)" text-anchor="middle" style="font-size:80.5px">DISO</text>
</svg>
</body></html>
